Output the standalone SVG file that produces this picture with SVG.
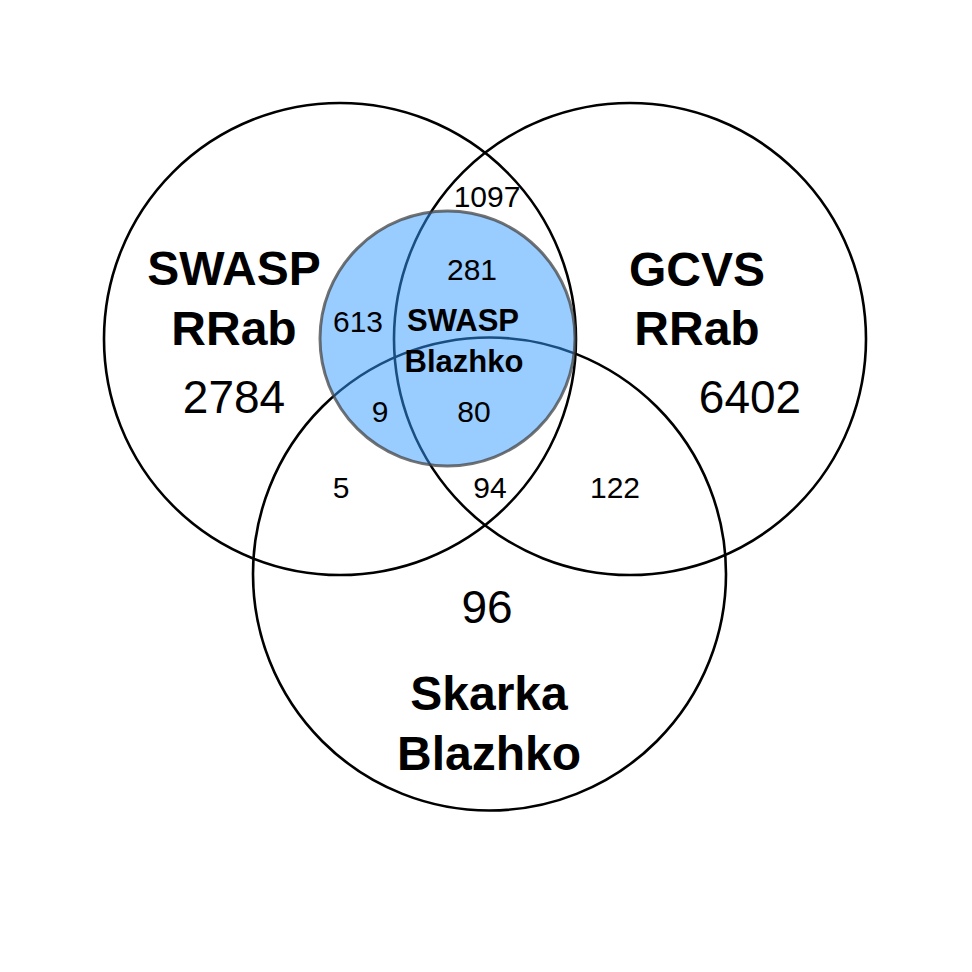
<svg xmlns="http://www.w3.org/2000/svg" width="972" height="972" viewBox="0 0 972 972">
<style>
.set{fill:none;stroke:#000;stroke-width:2.6}
.blue{fill:#3399ff;fill-opacity:0.5;stroke:#444;stroke-opacity:0.75;stroke-width:3}
text{font-family:"Liberation Sans",Arial,Helvetica,sans-serif;text-anchor:middle;fill:#000}
.title{font-weight:bold;font-size:48px}
.sub{font-weight:bold;font-size:31px}
.big{font-size:46px}
.small{font-size:30px}
</style>
<rect width="972" height="972" fill="#fff"/>
<g id="swasp-rrab">
<circle class="set" cx="340" cy="339" r="236"/>
<text class="title" x="234" y="285">SWASP</text>
<text class="title" x="234" y="345">RRab</text>
<text class="big" x="234" y="413">2784</text>
</g>
<g id="gcvs-rrab">
<circle class="set" cx="630" cy="339" r="236"/>
<text class="title" x="697" y="286">GCVS</text>
<text class="title" x="697" y="345">RRab</text>
<text class="big" x="750" y="413">6402</text>
</g>
<g id="skarka-blazhko">
<circle class="set" cx="489.5" cy="574" r="236.5"/>
<text class="big" x="487" y="623">96</text>
<text class="title" x="489" y="710">Skarka</text>
<text class="title" x="489" y="770">Blazhko</text>
</g>
<g id="swasp-blazhko">
<circle class="blue" cx="447.5" cy="338.5" r="127.5"/>
<text class="sub" x="463" y="331">SWASP</text>
<text class="sub" x="464" y="372">Blazhko</text>
</g>
<g id="region-counts">
<text class="small" x="487" y="207">1097</text>
<text class="small" x="472" y="280">281</text>
<text class="small" x="358" y="332">613</text>
<text class="small" x="380" y="422">9</text>
<text class="small" x="474" y="422">80</text>
<text class="small" x="341" y="498">5</text>
<text class="small" x="490" y="498">94</text>
<text class="small" x="615" y="498">122</text>
</g>
</svg>
